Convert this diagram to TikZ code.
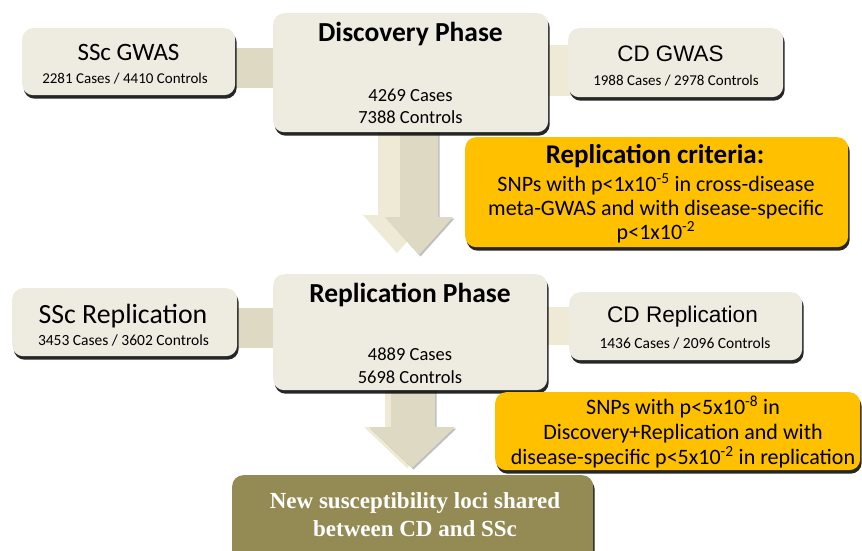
\documentclass[tikz,border=0pt]{standalone}
\usepackage{fontspec}
\setmainfont{Carlito}
\newfontfamily\arialf{Liberation Sans}
\newfontfamily\timesf{Liberation Serif}
\usetikzlibrary{shadows,calc}
\definecolor{boxfill}{HTML}{EEECE1}
\definecolor{tandark}{HTML}{DDD9C3}
\definecolor{tanlight}{HTML}{EEEAD6}
\definecolor{goldbox}{HTML}{FFC000}
\definecolor{olivebox}{HTML}{948A54}
\pgfdeclarelayer{bg}
\pgfsetlayers{bg,main}
\begin{document}
\begin{tikzpicture}[x=1pt,y=-1pt,
  panel/.style={fill=#1, rounded corners=11pt, inner sep=0pt, anchor=north west,
    drop shadow={shadow xshift=1.5pt, shadow yshift=-3.5pt, opacity=0.85, fill=black}},
  panel/.default=boxfill,
  txt/.style={anchor=base, inner sep=0pt},
  bigtitle/.style={txt, font=\fontsize{27.5}{32}\bfseries\selectfont},
  subtxt/.style={txt, font=\fontsize{15}{18}\selectfont},
  numtxt/.style={txt, font=\fontsize{18.5}{22}\selectfont},
  crittxt/.style={txt, font=\fontsize{22}{26}\selectfont},
  barl/.style={fill=tandark},
  barr/.style={fill=tanlight},
  arrowback/.style={fill=tanlight},
  arrowfront/.style={fill=tandark, drop shadow={shadow xshift=1.5pt, shadow yshift=-1.5pt, opacity=0.25, fill=black}},
]
\useasboundingbox (0,0) rectangle (862,551);
\clip (0,0) rectangle (862,551);

% ---------- boxes ----------
\node[panel, minimum width=213pt, minimum height=67pt] (sscg) at (22,28) {};
\node[panel, minimum width=275pt, minimum height=119pt] (disc) at (273,13) {};
\node[panel, minimum width=215pt, minimum height=69pt] (cdg) at (568,28) {};
\node[panel=goldbox, minimum width=383pt, minimum height=110pt] (crit) at (465,137) {};

\node[panel, minimum width=225pt, minimum height=68pt] (sscr) at (12,288) {};
\node[panel, minimum width=274pt, minimum height=116pt] (repl) at (273,274) {};
\node[panel, minimum width=233pt, minimum height=68pt] (cdr) at (569,292) {};

\node[panel=olivebox, minimum width=361pt, minimum height=95pt] (final) at (232,475) {};
\node[panel=goldbox, minimum width=365pt, minimum height=78pt] (crit2) at (495,392) {};

% ---------- connectors (behind) ----------
\begin{pgfonlayer}{bg}
  \fill[barl] ($(sscg.east |- 0,48)+(-6,0)$) rectangle ($(disc.west |- 0,88)+(6,0)$);
  \fill[barr] ($(disc.east |- 0,45)+(-6,0)$) rectangle ($(cdg.west |- 0,96)+(6,0)$);
  \fill[barl] ($(sscr.east |- 0,308)+(-6,0)$) rectangle ($(repl.west |- 0,348)+(6,0)$);
  \fill[barr] ($(repl.east |- 0,307)+(-6,0)$) rectangle ($(cdr.west |- 0,345)+(6,0)$);

  % big arrow discovery -> replication
  \coordinate (a1tip) at (419,255);
  \fill[arrowback] (378,125) -- (416,125) -- (416,215) -- (431,215) -- ($(a1tip)+(-22,-2)$) -- (363,215) -- (378,215) -- cycle;
  \fill[arrowfront] (400,125) -- (438,125) -- (438,217) -- (453,217) -- (a1tip) -- (385,217) -- (400,217) -- cycle;

  % arrow replication -> result
  \coordinate (a2tip) at (412,468);
  \fill[arrowback] (385,380) -- (430,380) -- (430,427) -- (450,427) -- ($(a2tip)+(-5,0)$) -- (364,427) -- (385,427) -- cycle;
  \fill[arrowfront] (391,380) -- (435,380) -- (435,427) -- (455,427) -- (a2tip) -- (369,427) -- (391,427) -- cycle;
\end{pgfonlayer}

% ---------- texts ----------
\node[txt, font=\fontsize{25}{30}\selectfont] (sscgt) at (128.5,61) {SSc GWAS};
\node[subtxt] (sscgs) at (125,83) {2281 Cases / 4410 Controls};

\node[bigtitle] (disct) at (410.5,42) {Discovery Phase};
\node[numtxt] (discn1) at (410.5,101) {4269 Cases};
\node[numtxt] (discn2) at (410.5,123) {7388 Controls};

\node[txt, font=\arialf\fontsize{22.4}{26}\selectfont] (cdgt) at (670.5,62) {CD GWAS};
\node[subtxt] (cdgs) at (676,85) {1988 Cases / 2978 Controls};

\node[txt, font=\fontsize{27}{32}\bfseries\selectfont] (critt) at (655,163) {Replication criteria:};
\node[crittxt] (crit1) at (656,191) {SNPs with p<1x10\textsuperscript{-5} in cross-disease};
\node[crittxt] (crit2l) at (656,215) {meta-GWAS and with disease-specific};
\node[crittxt] (crit3) at (656,239) {p<1x10\textsuperscript{-2}};

\node[txt, font=\fontsize{27.8}{32}\selectfont] (sscrt) at (123,323) {SSc Replication};
\node[subtxt, font=\fontsize{15.5}{18}\selectfont] (sscrs) at (123.5,345) {3453 Cases / 3602 Controls};

\node[bigtitle] (replt) at (410,302) {Replication Phase};
\node[numtxt] (repln1) at (410,360) {4889 Cases};
\node[numtxt] (repln2) at (410,383) {5698 Controls};

\node[txt, font=\arialf\fontsize{22.6}{26}\selectfont] (cdrt) at (682.5,322) {CD Replication};
\node[subtxt, font=\fontsize{15.5}{18}\selectfont] (cdrs) at (685,348) {1436 Cases / 2096 Controls};

\node[crittxt] (c2l1) at (683,414) {SNPs with p<5x10\textsuperscript{-8} in};
\node[crittxt] (c2l2) at (683,439) {Discovery+Replication and with};
\node[crittxt] (c2l3) at (683,464) {disease-specific p<5x10\textsuperscript{-2} in replication};

\node[txt, text=white, font=\timesf\fontsize{23}{27}\bfseries\selectfont] (fin1) at (415,508) {New susceptibility loci shared};
\node[txt, text=white, font=\timesf\fontsize{23}{27}\bfseries\selectfont] (fin2) at (415,536) {between CD and SSc};
\end{tikzpicture}
\end{document}
